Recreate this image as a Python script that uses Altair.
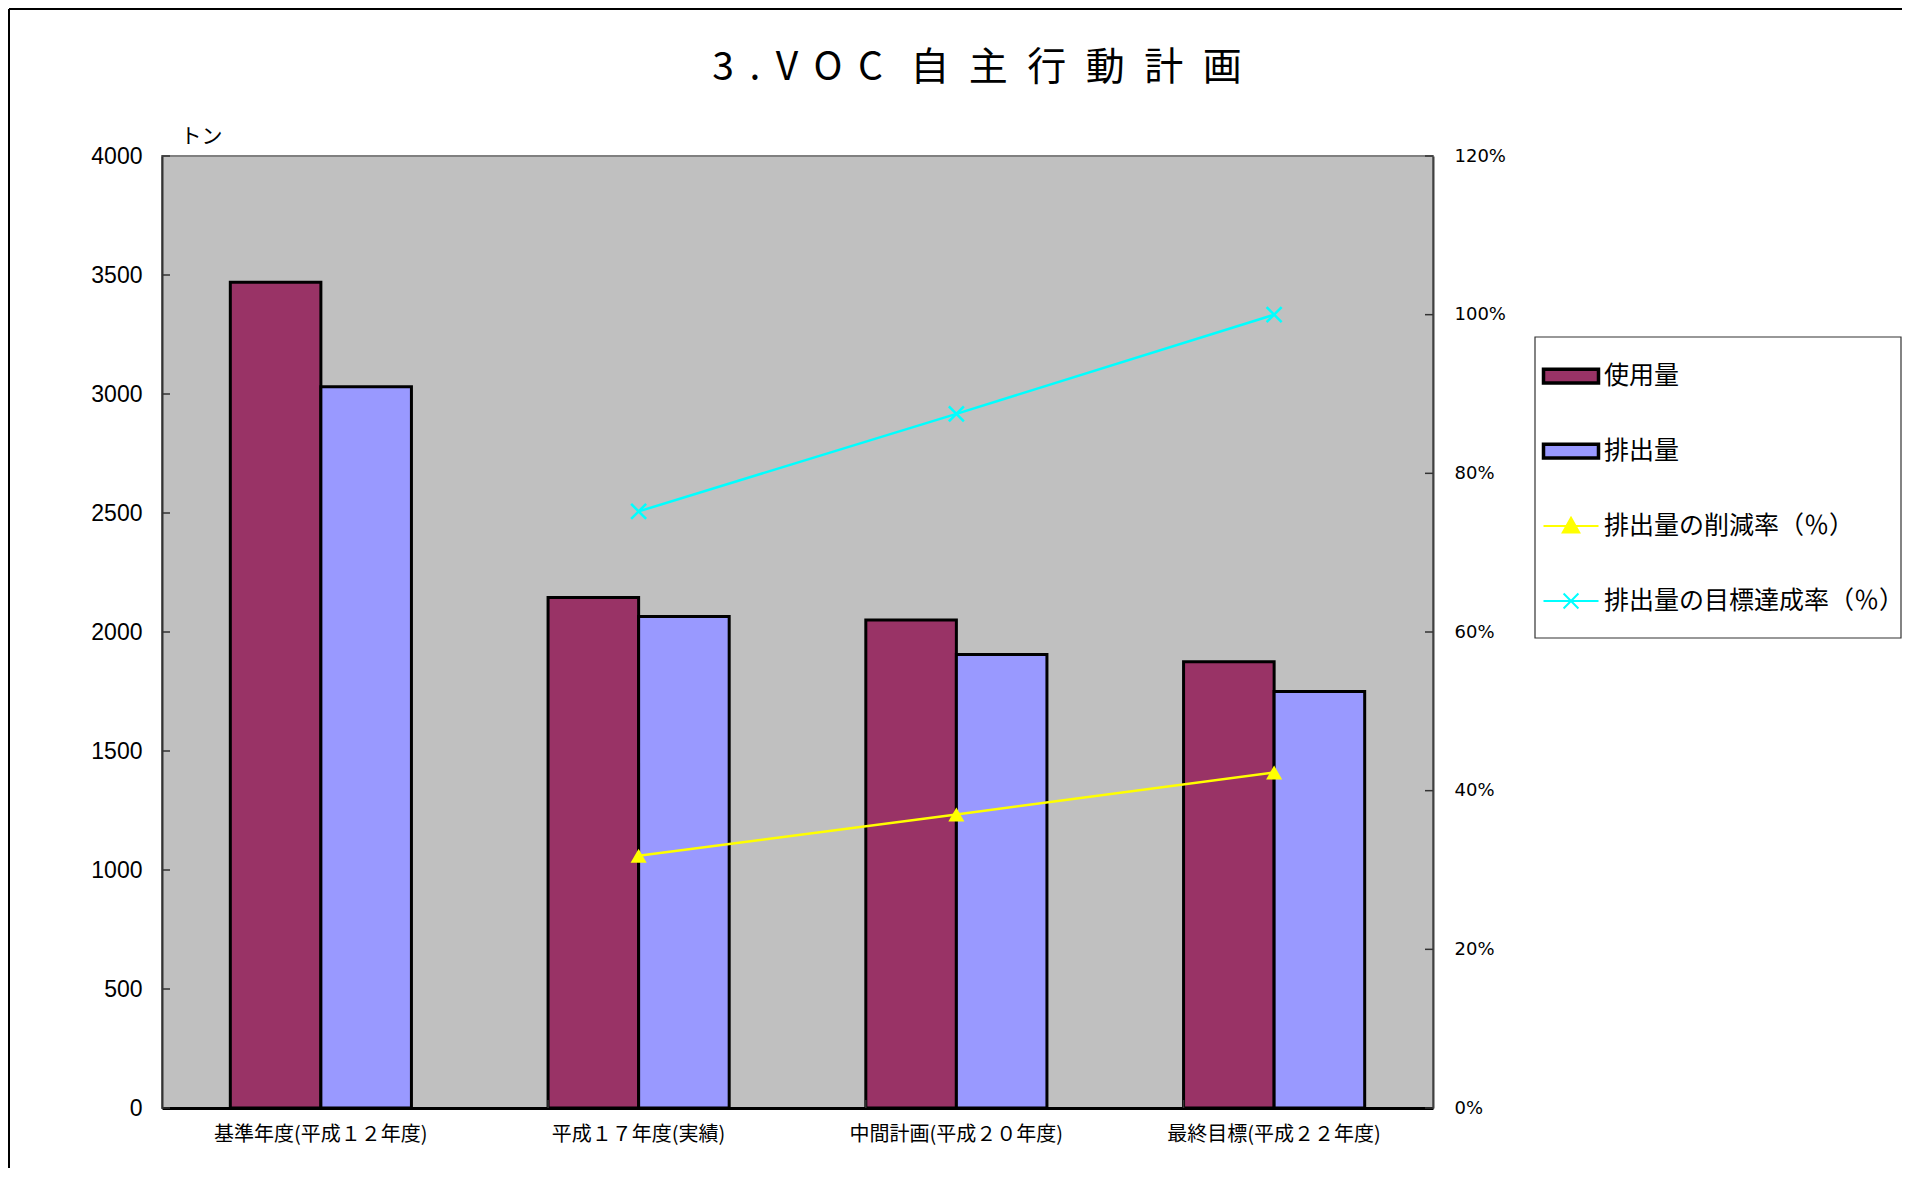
import altair as alt
import pandas as pd

# ---- data ----
categories = ["基準年度(平成１２年度)", "平成１７年度(実績)", "中間計画(平成２０年度)", "最終目標(平成２２年度)"]
bar_series = ["使用量", "排出量"]
line_series = ["排出量の削減率（％）", "排出量の目標達成率（％）"]
use_amount = [3470, 2145, 2050, 1875]
emission = [3030, 2065, 1905, 1750]
reduction_rate = [None, 0.318, 0.370, 0.423]
achievement_rate = [None, 0.752, 0.875, 1.000]
left_ticks = [0, 500, 1000, 1500, 2000, 2500, 3000, 3500, 4000]
right_ticks = [0, 0.2, 0.4, 0.6, 0.8, 1.0, 1.2]
colors = ["#993366", "#9999FF", "#FFFF00", "#00FFFF"]
title_text = "3\u2004\u200a.\u2004\u200aV\u2004\u200aO\u2004\u200aC\u2002\u2009自\u2002主\u2002行\u2002動\u2002計\u2002画"
unit_text = "トン"

all_series = bar_series + line_series
JP = "Noto Sans CJK JP"

bar_rows = []
for i, c in enumerate(categories):
    bar_rows.append({"cat": c, "series": bar_series[0], "v": use_amount[i]})
    bar_rows.append({"cat": c, "series": bar_series[1], "v": emission[i]})
bar_df = pd.DataFrame(bar_rows)

line_rows = []
for i, c in enumerate(categories):
    if reduction_rate[i] is not None:
        line_rows.append({"cat": c, "series": line_series[0], "p": reduction_rate[i]})
    if achievement_rate[i] is not None:
        line_rows.append({"cat": c, "series": line_series[1], "p": achievement_rate[i]})
line_df = pd.DataFrame(line_rows)

legend_df = pd.DataFrame({"series": all_series})
lt_df = pd.DataFrame({"v": left_ticks})
rt_df = pd.DataFrame({"p": right_ticks})
xt_df = pd.DataFrame({"cat": categories[1:]})

color_nl = alt.Color("series:N", scale=alt.Scale(domain=all_series, range=colors), legend=None)

x_enc = alt.X("cat:N", sort=categories,
              scale=alt.Scale(paddingInner=0.43, paddingOuter=0.215),
              axis=alt.Axis(title=None, labelAngle=0, labelFont=JP, labelFontSize=20,
                            labelColor="black", labelPadding=16, ticks=False,
                            domainColor="black", domainWidth=3, labelLimit=400, grid=False))

y_left = alt.Y("v:Q", scale=alt.Scale(domain=[0, 4000], nice=False),
               axis=alt.Axis(values=left_ticks, format="d", title=unit_text, titleAngle=0,
                             titleX=18, titleY=-10,
                             titleAlign="left", titleBaseline="bottom", titleFont=JP, titleFontSize=21,
                             titleFontWeight="normal", titleColor="black",
                             labelFont="Liberation Sans", labelFontSize=23, labelColor="black",
                             labelPadding=20, ticks=False,
                             domainColor="#333333", domainWidth=2, grid=False))

bars = alt.Chart(bar_df).mark_bar(stroke="black", strokeWidth=3).encode(
    x=x_enc,
    xOffset=alt.XOffset("series:N", sort=bar_series, scale=alt.Scale(domain=bar_series, paddingInner=0)),
    y=y_left,
    color=color_nl,
)
left_tick_marks = alt.Chart(lt_df).mark_rule(color="#333333", strokeWidth=1.5).encode(
    y=alt.Y("v:Q"), x=alt.value(0), x2=alt.value(8))
x_tick_marks = alt.Chart(xt_df).mark_rule(color="#333333", strokeWidth=1.5).encode(
    x=alt.X("cat:N", sort=categories, bandPosition=0), y=alt.value(944), y2=alt.value(952))

y_right = alt.Y("p:Q", scale=alt.Scale(domain=[0, 1.2], nice=False),
                axis=alt.Axis(values=right_ticks, format="%", orient="right", title=None,
                              labelFont="DejaVu Sans", labelFontSize=18, labelColor="black",
                              labelPadding=21, ticks=False,
                              domainColor="#404040", domainWidth=2, grid=False))

lines = alt.Chart(line_df).mark_line(strokeWidth=2.5).encode(
    x=alt.X("cat:N", sort=categories), y=y_right, color=color_nl)
tri = alt.Chart(line_df).transform_filter(alt.datum.series == line_series[0]).mark_point(
    shape="triangle-up", filled=True, size=260, color=colors[2], opacity=1).encode(
    x=alt.X("cat:N", sort=categories), y=alt.Y("p:Q"))
xs = alt.Chart(line_df).transform_filter(alt.datum.series == line_series[1]).mark_point(
    shape="M-1,-1L1,1M-1,1L1,-1", filled=False, size=225, stroke=colors[3], strokeWidth=2.5, opacity=1).encode(
    x=alt.X("cat:N", sort=categories), y=alt.Y("p:Q"))
right_tick_marks = alt.Chart(rt_df).mark_rule(color="#333333", strokeWidth=1.5).encode(
    y=alt.Y("p:Q"), x=alt.value(1271), x2=alt.value(1263))

# ---- decorations: outer frame and title ----
deco = pd.DataFrame({"k": [0]})
frame_top = alt.Chart(deco).mark_rule(color="black", strokeWidth=2).encode(
    x=alt.value(-153), x2=alt.value(1740), y=alt.value(-147))
frame_left = alt.Chart(deco).mark_rule(color="black", strokeWidth=2).encode(
    x=alt.value(-153), y=alt.value(-147), y2=alt.value(1012))
title = alt.Chart(deco).mark_text(text=title_text, font=JP, fontSize=39, align="center",
                                  baseline="middle", color="black").encode(
    x=alt.value(815), y=alt.value(-88))

# ---- hand-built legend ----
rect_path = "M-1,-0.25H1V0.25H-1Z"
tri_path = "M-1,0H1M0,-0.3L0.3,0.24L-0.3,0.24Z"
x_path = "M-1,0H1M-0.27,-0.27L0.27,0.27M-0.27,0.27L0.27,-0.27"
ly = alt.Y("series:N", scale=alt.Scale(type="point", domain=all_series, range=[220, 445], padding=0), axis=None)
sym_x = alt.value(1409)

legend_box = alt.Chart(deco).mark_rect(fill="white", stroke="#333333", strokeWidth=1.2).encode(
    x=alt.value(1373), x2=alt.value(1739), y=alt.value(181), y2=alt.value(482))
leg_bars = alt.Chart(legend_df).transform_filter(
    alt.FieldOneOfPredicate(field="series", oneOf=bar_series)).mark_point(
    shape=rect_path, filled=True, size=3025, stroke="black", strokeWidth=3.5, opacity=1).encode(
    x=sym_x, y=ly, color=color_nl)
leg_tri = alt.Chart(legend_df).transform_filter(alt.datum.series == line_series[0]).mark_point(
    shape=tri_path, filled=True, size=3025, fill=colors[2], stroke=colors[2], strokeWidth=2, opacity=1).encode(
    x=sym_x, y=ly)
leg_x = alt.Chart(legend_df).transform_filter(alt.datum.series == line_series[1]).mark_point(
    shape=x_path, filled=False, size=3025, stroke=colors[3], strokeWidth=2, opacity=1).encode(
    x=sym_x, y=ly)
leg_text = alt.Chart(legend_df).mark_text(font=JP, fontSize=25, align="left", baseline="middle",
                                          color="black").encode(
    x=alt.value(1442), y=ly, text="series:N")

left = alt.layer(bars, left_tick_marks, x_tick_marks, frame_top, frame_left, title)
right = alt.layer(lines, tri, xs, right_tick_marks)
legend = alt.layer(legend_box, leg_bars, leg_tri, leg_x, leg_text)

chart = alt.layer(left, right, legend).resolve_scale(y="independent").properties(
    width=1271, height=952, padding=0, background="white"
).configure_view(fill="#C0C0C0", stroke="#808080", strokeWidth=2)

chart.save("out.html", embed_options={"renderer": "svg", "actions": False})
